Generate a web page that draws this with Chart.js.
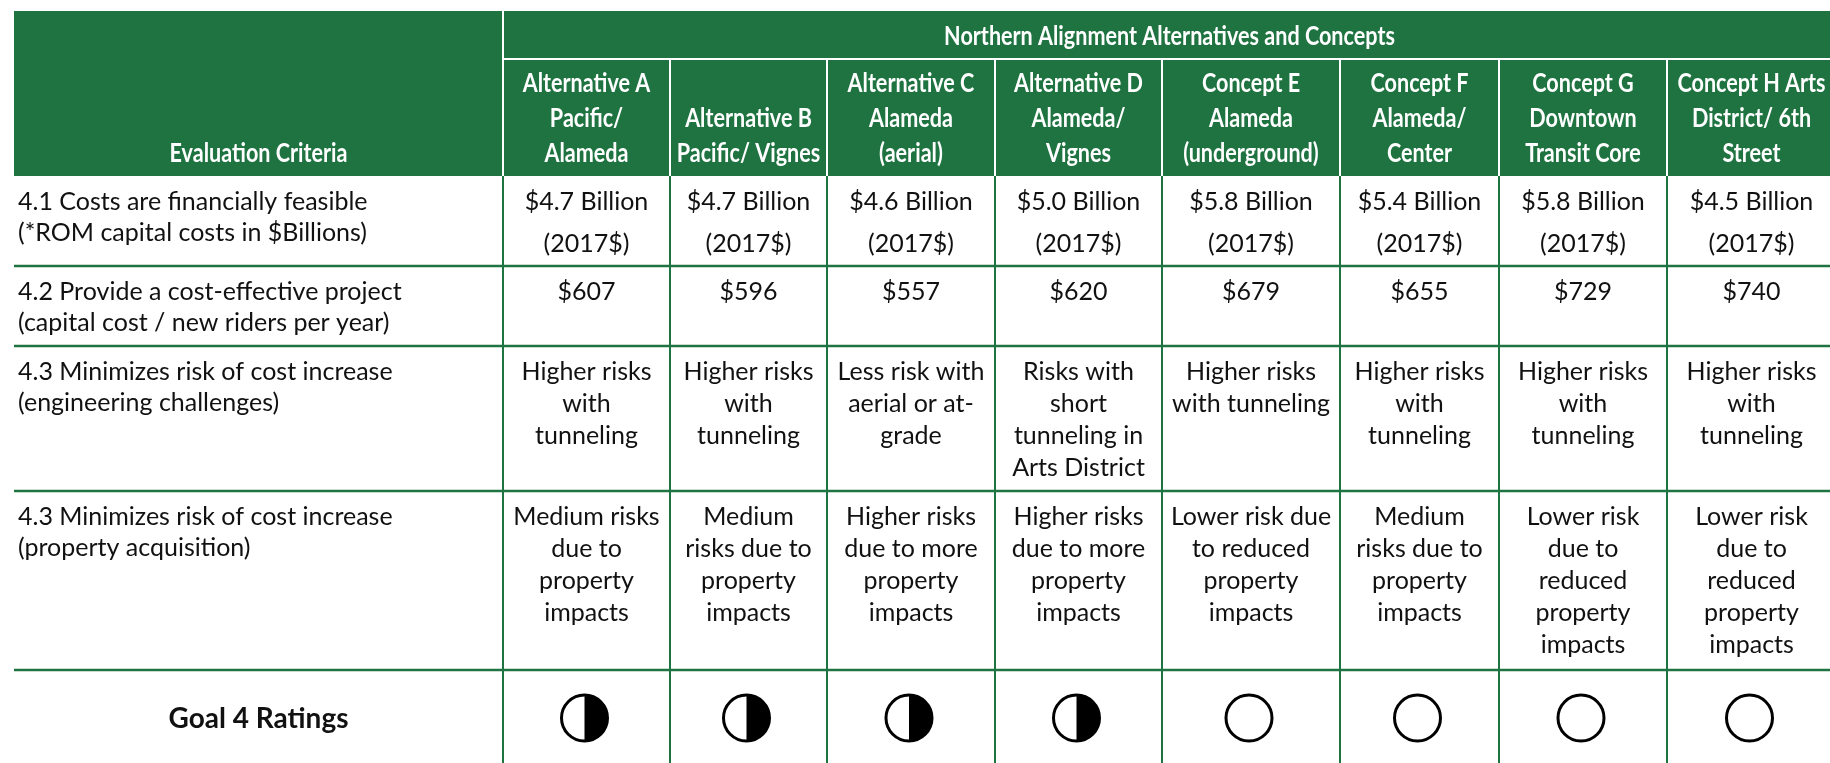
<!DOCTYPE html>
<html>
<head>
<meta charset="utf-8">
<script src="https://cdn.jsdelivr.net/npm/chart.js@4.4.1/dist/chart.umd.min.js"></script>
<style>
  html, body { margin: 0; padding: 0; background: #fff; }
  canvas { display: block; }
</style>
</head>
<body>
<canvas id="tabela" width="1830" height="763"></canvas>
<script>
// Dados da tabela
const groupTitle = "Northern Alignment Alternatives and Concepts";
const criteriaTitle = "Evaluation Criteria";
const alternatives = [
  ["Alternative A", "Pacific/", "Alameda"],
  ["Alternative B", "Pacific/ Vignes"],
  ["Alternative C", "Alameda", "(aerial)"],
  ["Alternative D", "Alameda/", "Vignes"],
  ["Concept E", "Alameda", "(underground)"],
  ["Concept F", "Alameda/", "Center"],
  ["Concept G", "Downtown", "Transit Core"],
  ["Concept H Arts", "District/ 6th", "Street"]
];
const criteria = [
  ["4.1 Costs are financially feasible", "(*ROM capital costs in $Billions)"],
  ["4.2 Provide a cost-effective project", "(capital cost / new riders per year)"],
  ["4.3 Minimizes risk of cost increase", "(engineering challenges)"],
  ["4.3 Minimizes risk of cost increase", "(property acquisition)"]
];
const costBillions = [4.7, 4.7, 4.6, 5.0, 5.8, 5.4, 5.8, 4.5];
const costPerRider = [607, 596, 557, 620, 679, 655, 729, 740];
const engineeringRisk = [
  ["Higher risks", "with", "tunneling"],
  ["Higher risks", "with", "tunneling"],
  ["Less risk with", "aerial or at-", "grade"],
  ["Risks with", "short", "tunneling in", "Arts District"],
  ["Higher risks", "with tunneling"],
  ["Higher risks", "with", "tunneling"],
  ["Higher risks", "with", "tunneling"],
  ["Higher risks", "with", "tunneling"]
];
const propertyRisk = [
  ["Medium risks", "due to", "property", "impacts"],
  ["Medium", "risks due to", "property", "impacts"],
  ["Higher risks", "due to more", "property", "impacts"],
  ["Higher risks", "due to more", "property", "impacts"],
  ["Lower risk due", "to reduced", "property", "impacts"],
  ["Medium", "risks due to", "property", "impacts"],
  ["Lower risk", "due to", "reduced", "property", "impacts"],
  ["Lower risk", "due to", "reduced", "property", "impacts"]
];
const ratingLabel = "Goal 4 Ratings";
const ratings = [0.5, 0.5, 0.5, 0.5, 0, 0, 0, 0]; // parte preenchida do círculo

// Layout (em unidades das escalas)
const colEdges = [14, 503, 670, 827, 995, 1162, 1340, 1499, 1667, 1836];
const rowEdges = [11, 59, 176, 266, 346, 491, 670, 766];

const GREEN = "#1e7340";
const TEXT = "#111";
const bodyFont = "25px Lato";
const headFont = "bold 26px Lato";
const headSqueeze = 0.83;

function drawText(ctx, text, x, y, font, color, align, sx) {
  ctx.save();
  ctx.font = font;
  ctx.fillStyle = color;
  ctx.textAlign = align;
  ctx.textBaseline = "alphabetic";
  ctx.translate(x, y);
  ctx.scale(sx || 1, 1);
  ctx.fillText(text, 0, 0);
  ctx.restore();
}

const tablePlugin = {
  id: "tablePlugin",
  beforeDatasetsDraw(chart) {
    const { ctx, scales: { x, y } } = chart;
    const X = v => x.getPixelForValue(v);
    const Y = v => y.getPixelForValue(v);
    const right = X(colEdges[colEdges.length - 1]);
    const bottom = Y(rowEdges[rowEdges.length - 1]);
    const cx = i => (X(colEdges[i]) + X(colEdges[i + 1])) / 2;

    // cabeçalho verde
    ctx.fillStyle = GREEN;
    ctx.fillRect(X(colEdges[0]), Y(rowEdges[0]), right - X(colEdges[0]), Y(rowEdges[2]) - Y(rowEdges[0]));

    ctx.strokeStyle = "#fff";
    ctx.lineWidth = 2;
    ctx.beginPath();
    ctx.moveTo(X(colEdges[1]), Y(rowEdges[0]));
    ctx.lineTo(X(colEdges[1]), Y(rowEdges[2]));
    ctx.moveTo(X(colEdges[1]), Y(rowEdges[1]));
    ctx.lineTo(right, Y(rowEdges[1]));
    for (let i = 2; i < colEdges.length - 1; i++) {
      ctx.moveTo(X(colEdges[i]), Y(rowEdges[1]));
      ctx.lineTo(X(colEdges[i]), Y(rowEdges[2]));
    }
    ctx.stroke();

    // textos do cabeçalho
    drawText(ctx, groupTitle, (X(colEdges[1]) + right) / 2, Y(rowEdges[0]) + 34, headFont, "#fff", "center", headSqueeze);
    const headBase = Y(rowEdges[2]) - 14;
    drawText(ctx, criteriaTitle, cx(0), headBase, headFont, "#fff", "center", headSqueeze);
    alternatives.forEach((lines, i) => {
      lines.forEach((t, k) => {
        drawText(ctx, t, cx(i + 1), headBase - (lines.length - 1 - k) * 35, headFont, "#fff", "center", headSqueeze);
      });
    });

    // grade verde do corpo
    ctx.strokeStyle = GREEN;
    ctx.lineWidth = 2;
    ctx.beginPath();
    for (let i = 1; i < colEdges.length - 1; i++) {
      ctx.moveTo(X(colEdges[i]), Y(rowEdges[2]));
      ctx.lineTo(X(colEdges[i]), bottom);
    }
    ctx.stroke();
    ctx.lineWidth = 2.5;
    ctx.beginPath();
    for (let j = 3; j < rowEdges.length - 1; j++) {
      ctx.moveTo(X(colEdges[0]), Y(rowEdges[j]));
      ctx.lineTo(right, Y(rowEdges[j]));
    }
    ctx.stroke();

    // critérios
    criteria.forEach((lines, r) => {
      const top = Y(rowEdges[r + 2]);
      lines.forEach((t, k) => {
        drawText(ctx, t, X(colEdges[0]) + 4, top + 34 + k * 31, bodyFont, TEXT, "left");
      });
    });

    // células
    const bodyRows = [
      costBillions.map(v => ["$" + v.toFixed(1) + " Billion", "(2017$)"]),
      costPerRider.map(v => ["$" + v]),
      engineeringRisk,
      propertyRisk
    ];
    const spacing = [42, 32, 32, 32];
    bodyRows.forEach((row, r) => {
      const top = Y(rowEdges[r + 2]);
      row.forEach((lines, i) => {
        lines.forEach((t, k) => {
          drawText(ctx, t, cx(i + 1), top + 34 + k * spacing[r], bodyFont, TEXT, "center");
        });
      });
    });

    drawText(ctx, ratingLabel, cx(0), Y(rowEdges[6]) + 58, "bold 28px Lato", TEXT, "center");
  },
  afterDatasetsDraw(chart) {
    // metade direita preenchida
    const { ctx } = chart;
    const meta = chart.getDatasetMeta(0);
    meta.data.forEach((pt, i) => {
      if (ratings[i] <= 0) return;
      const r = pt.options.radius;
      ctx.save();
      ctx.fillStyle = "#000";
      ctx.beginPath();
      ctx.arc(pt.x, pt.y, r, -Math.PI / 2, Math.PI / 2);
      ctx.closePath();
      ctx.fill();
      ctx.restore();
    });
  }
};

const colCentres = alternatives.map((_, i) => (colEdges[i + 1] + colEdges[i + 2]) / 2);
const ratingY = (rowEdges[6] + rowEdges[7]) / 2;

new Chart(document.getElementById("tabela"), {
  type: "scatter",
  data: {
    datasets: [{
      data: ratings.map((v, i) => ({ x: colCentres[i] - 2, y: ratingY })),
      pointRadius: 23,
      pointHoverRadius: 23,
      pointBackgroundColor: "#fff",
      pointBorderColor: "#000",
      pointBorderWidth: 3,
      clip: false
    }]
  },
  options: {
    responsive: false,
    animation: false,
    events: [],
    layout: { padding: 0, autoPadding: false },
    plugins: { legend: { display: false }, tooltip: { enabled: false } },
    scales: {
      x: { type: "linear", min: 0, max: 1830, display: false },
      y: { type: "linear", min: 0, max: 763, reverse: true, display: false }
    }
  },
  plugins: [tablePlugin]
});
</script>
</body>
</html>
